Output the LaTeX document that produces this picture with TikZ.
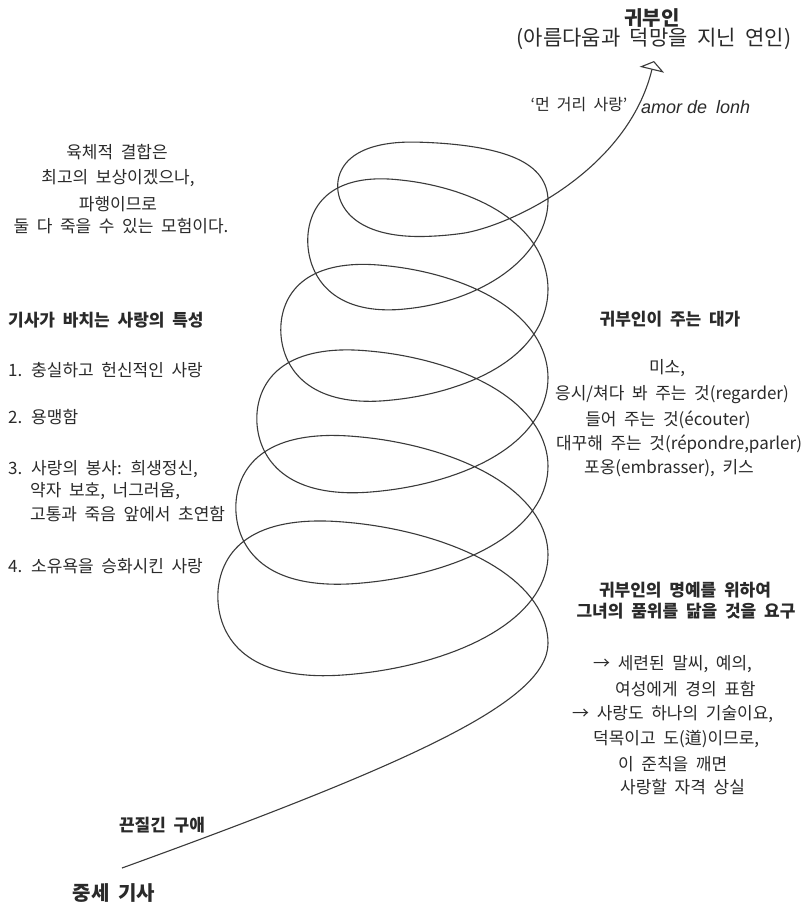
\documentclass[tikz,border=0pt]{standalone}
\usepackage{fontspec}
\setmainfont{Noto Sans CJK KR}[WordSpace=2]
\newfontfamily\latfont{Liberation Sans}
\usetikzlibrary{arrows.meta}
\definecolor{txt}{HTML}{2A2A2A}
\definecolor{ln}{HTML}{3A3A3A}
\begin{document}
\begin{tikzpicture}[x=1pt,y=-1pt,
  declare function={
    Lx(\x)=210+15*\x+1.5*\x*\x;
    cX(\x)=(548+Lx(\x))/2;
    aX(\x)=(548-Lx(\x))/2;
    cc(\x)=40-3.5*\x;
    rp(\x)=max(0,\x-5);
    cl(\x)=min(1,max(0,(\x-4.75)/0.5));
    sm(\x)=3*cl(\x)*cl(\x)-2*cl(\x)*cl(\x)*cl(\x);
    cY(\x)=599-88.5*(\x-0.5)+67*rp(\x);
    bY(\x)=100-3*\x-31*sm(\x);
    HX(\x)=cX(\x)+aX(\x)*cos(360*\x)-cc(\x)*sin(360*\x)*sin(360*\x)
           +22*max(cos(360*\x),0)*sin(360*\x)*sin(360*\x);
    HY(\x)=cY(\x)-bY(\x)*sin(360*\x);
  }]
\tikzset{
  lbl/.style={font=\fontsize{17}{20}\selectfont, text=txt, inner sep=0pt},
  bl/.style={lbl, font=\fontsize{17}{20}\selectfont\bfseries},
  ttl/.style={lbl, font=\fontsize{20}{24}\selectfont\bfseries},
  sub/.style={lbl, font=\fontsize{21}{24}\selectfont},
  spiral/.style={draw=ln, line width=1.1pt, line join=round},
}
\useasboundingbox (0,0) rectangle (812,906);
\fill[white] (0,0) rectangle (812,906);

% titles
\node[ttl] (lady) at (652,18) {귀부인};
\node[sub] (ladysub) at (654,39) {(아름다움과 덕망을 지닌 연인)};
\node[lbl, font=\fontsize{16}{19}\selectfont] (dist) at (579,105) {‘먼 거리 사랑’};
\node[lbl, anchor=west, font=\fontsize{18}{20}\selectfont\latfont\itshape] (amor) at (641,107) {amor de\hspace{4pt} lonh};

% upper-left block
\node[lbl] (u1) at (117,152) {육체적 결합은};
\node[lbl] (u2) at (118,178) {최고의 보상이겠으나,};
\node[lbl] (u3) at (118,204) {파행이므로};
\node[lbl] (u4) at (121,226) {둘 다 죽을 수 있는 모험이다.};

% left list
\node[bl, anchor=west] (k0) at (8,320) {기사가 바치는 사랑의 특성};
\node[lbl, anchor=west] (k1) at (8,370) {1. 충실하고 헌신적인 사랑};
\node[lbl, anchor=west] (k2) at (8,417) {2. 용맹함};
\node[lbl, anchor=west] (k3) at (8,469) {3. 사랑의 봉사: 희생정신,};
\node[lbl, anchor=west] (k3b) at (30,491) {약자 보호, 너그러움,};
\node[lbl, anchor=west] (k3c) at (30,514) {고통과 죽음 앞에서 초연함};
\node[lbl, anchor=west] (k4) at (8,566) {4. 소유욕을 승화시킨 사랑};

% right block
\node[bl] (g0) at (670,319) {귀부인이 주는 대가};
\node[lbl] (g1) at (667,368) {미소,};
\node[lbl] (g2) at (672,395) {응시/쳐다 봐 주는 것(regarder)};
\node[lbl] (g3) at (668,420) {들어 주는 것(écouter)};
\node[lbl] (g4) at (679,444) {대꾸해 주는 것(répondre,parler)};
\node[lbl] (g5) at (669,468) {포옹(embrasser), 키스};

\node[bl] (h1) at (685,590) {귀부인의 명예를 위하여};
\node[bl] (h2) at (686,611) {그녀의 품위를 닮을 것을 요구};

\node[lbl, anchor=west] (a1) at (593,664) {→ 세련된 말씨, 예의,};
\node[lbl, anchor=west] (a2) at (615,689) {여성에게 경의 표함};
\node[lbl, anchor=west] (a3) at (572,714) {→ 사랑도 하나의 기술이요,};
\node[lbl, anchor=west] (a4) at (593,739) {덕목이고 도(道)이므로,};
\node[lbl, anchor=west] (a5) at (618,764) {이 준칙을 깨면};
\node[lbl, anchor=west] (a6) at (620,787) {사랑할 자격 상실};

% bottom
\node[bl] (c1) at (162,825) {끈질긴 구애};
\node[ttl] (knight) at (114,893) {중세 기사};

% spiral path from the knight to the lady
\coordinate (kstart) at (122,868);
\coordinate (h0) at ({HX(0)},{HY(0)});
\coordinate (ltip) at (654,61);
\draw[spiral, -{Triangle[open, length=9pt, width=25pt]}]
  (kstart) .. controls (420,760) and (548,700) .. (h0)
  -- plot[domain=0:5.8, samples=800, variable=\u] ({HX(\u)},{HY(\u)})
  .. controls (517,223) and (628,168) .. (ltip);
\end{tikzpicture}
\end{document}
